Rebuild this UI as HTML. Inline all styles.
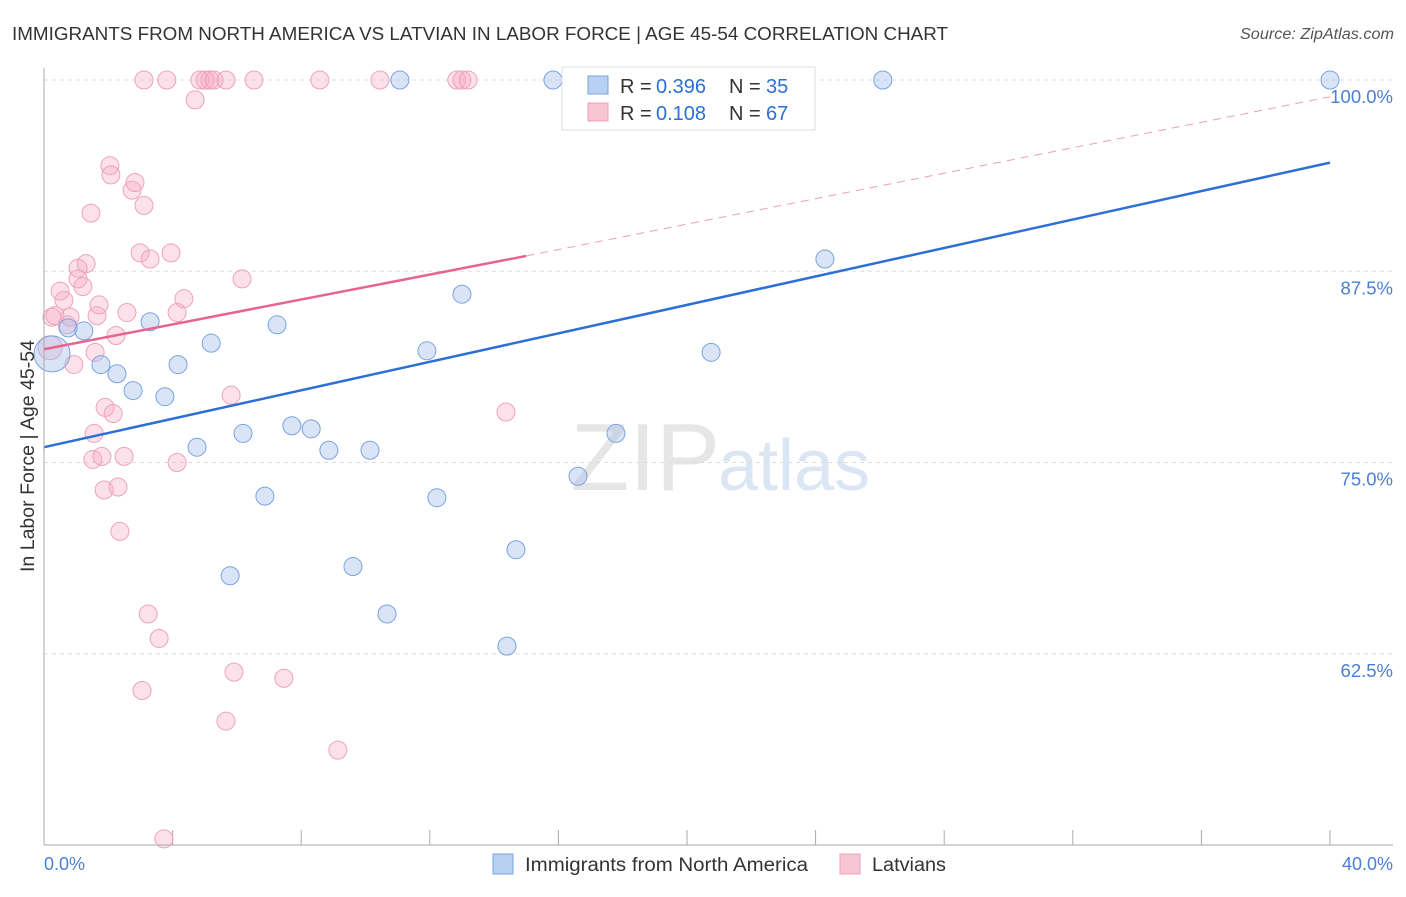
<!DOCTYPE html>
<html><head><meta charset="utf-8"><style>
body{margin:0;background:#fff;font-family:"Liberation Sans",sans-serif;}
svg text{font-family:"Liberation Sans",sans-serif;}
</style></head><body>
<svg id="c" width="1406" height="892">
<text x="12" y="40" font-size="18" fill="#333" textLength="936" lengthAdjust="spacingAndGlyphs">IMMIGRANTS FROM NORTH AMERICA VS LATVIAN IN LABOR FORCE | AGE 45-54 CORRELATION CHART</text>
<text x="1240" y="39" font-size="15.5" fill="#555" font-style="italic" textLength="154" lengthAdjust="spacingAndGlyphs">Source: ZipAtlas.com</text>
<text x="720" y="490" font-size="96" fill="#e6e6e6" font-family="Liberation Serif" text-anchor="end">ZIP</text>
<text x="718" y="490" font-size="72" fill="#dbe6f5">atlas</text>
<g id="grid"></g><g id="pts"></g><g id="lines"></g>
<line x1="44" y1="68" x2="44" y2="845" stroke="#aaa"/>
<line x1="44" y1="845" x2="1393" y2="845" stroke="#aaa"/>
<text transform="translate(34,456) rotate(-90)" font-size="19" fill="#333" text-anchor="middle" textLength="232" lengthAdjust="spacingAndGlyphs">In Labor Force | Age 45-54</text>
<text x="44" y="870" font-size="18" fill="#4a7fd4">0.0%</text>
<text x="1393" y="870" font-size="18" fill="#4a7fd4" text-anchor="end">40.0%</text>
<g>
<rect x="562" y="67" width="253" height="63" fill="#fff" stroke="#ddd"/>
<rect x="588" y="76" width="20" height="18" fill="#b8d0f2" stroke="#7aa3e0"/>
<rect x="588" y="103" width="20" height="18" fill="#f8c5d5" stroke="#eda0ba"/>
<text x="620" y="93" font-size="20" fill="#333">R =</text>
<text x="656" y="93" font-size="20" fill="#2c6fd6">0.396</text>
<text x="729" y="93" font-size="20" fill="#333">N =</text>
<text x="766" y="93" font-size="20" fill="#2c6fd6">35</text>
<text x="620" y="120" font-size="20" fill="#333">R =</text>
<text x="656" y="120" font-size="20" fill="#2c6fd6">0.108</text>
<text x="729" y="120" font-size="20" fill="#333">N =</text>
<text x="766" y="120" font-size="20" fill="#2c6fd6">67</text>
</g>
<g>
<rect x="493" y="854" width="20" height="20" fill="#b8d0f2" stroke="#7aa3e0"/>
<text x="525" y="871" font-size="19" fill="#333" textLength="283" lengthAdjust="spacingAndGlyphs">Immigrants from North America</text>
<rect x="840" y="854" width="20" height="20" fill="#f8c5d5" stroke="#eda0ba"/>
<text x="872" y="871" font-size="19" fill="#333" textLength="74" lengthAdjust="spacingAndGlyphs">Latvians</text>
</g>
</svg>
<script>
const yTicks=[100,87.5,75,62.5];
const yTickLabels=["100.0%","87.5%","75.0%","62.5%"];
const xTicks=[0,4,8,12,16,20,24,28,32,36,40];
const blueX=[0.25,0.75,1.24,1.77,2.27,2.77,3.3,3.76,4.17,4.76,5.2,5.79,6.19,6.87,7.25,7.71,8.31,8.86,9.61,10.14,10.67,11.07,11.91,12.22,13.0,14.4,14.68,15.83,16.61,17.79,20.75,24.29,26.09,40.0,17.23];
const blueY=[82.1,83.8,83.6,81.4,80.8,79.7,84.2,79.3,81.4,76.0,82.8,67.6,76.9,72.8,84.0,77.4,77.2,75.8,68.2,75.8,65.1,100,82.3,72.7,86.0,63.0,69.3,100,74.1,76.9,82.2,88.3,100,100,100];
const pinkX=[0.19,0.25,0.34,0.5,0.62,0.72,0.81,0.93,1.06,1.06,1.21,1.31,1.46,1.59,1.65,1.71,1.8,1.9,1.56,1.52,1.87,2.05,2.08,2.15,2.24,2.3,2.36,2.49,2.58,2.74,2.83,2.99,3.05,3.11,3.11,3.24,3.3,3.58,3.73,3.82,3.95,4.14,4.14,4.35,4.7,4.85,5.01,5.16,5.29,5.66,5.66,5.82,5.91,6.16,6.53,7.46,8.58,9.14,10.45,12.84,13.0,13.19,14.37];
const pinkY=[82.5,84.5,84.6,86.2,85.6,84.0,84.5,81.4,87.0,87.7,86.5,88.0,91.3,82.2,84.6,85.3,75.4,78.6,76.9,75.2,73.2,94.4,93.8,78.2,83.3,73.4,70.5,75.4,84.8,92.8,93.3,88.7,60.1,100,91.8,65.1,88.3,63.5,50.4,100,88.7,75.0,84.8,85.7,98.7,100,100,100,100,58.1,100,79.4,61.3,87.0,100,60.9,100,56.2,100,100,100,100,78.3];
const blueLine=[0,76.0,40,94.6];
const pinkLine=[0,82.4,15.0,88.5,40,98.9];
const sx=v=>44+v*32.15, sy=v=>80+(100-v)*15.3;
const NS="http://www.w3.org/2000/svg";
function mk(t,a,p){const e=document.createElementNS(NS,t);for(const k in a)e.setAttribute(k,a[k]);p.appendChild(e);return e;}
const grid=document.getElementById('grid'),pts=document.getElementById('pts'),lines=document.getElementById('lines');
yTicks.forEach((v,i)=>{
 const l=mk('line',{x1:44,x2:1393,y1:sy(v),y2:sy(v),stroke:'#ddd','stroke-dasharray':'4,4'},grid);
 
 
 const t=mk('text',{x:1393,y:sy(v)+23,'font-size':18.5,fill:'#4a7fd4','text-anchor':'end'},grid);
 t.textContent=yTickLabels[i];
 
 
});
xTicks.forEach(v=>{
 const l=mk('line',{x1:sx(v),x2:sx(v),y1:830,y2:845,stroke:'#aaa'},grid);
 
 
});
pinkX.forEach((x,i)=>{
 const c=mk('circle',{cx:sx(x),cy:sy(pinkY[i]),r:i==0?12:9,fill:'rgba(245,170,195,0.35)',stroke:'#eda3bb','stroke-width':1},pts);
 
 
});
blueX.forEach((x,i)=>{
 const c=mk('circle',{cx:sx(x),cy:sy(blueY[i]),r:i==0?18:9,fill:'rgba(160,190,235,0.4)',stroke:'#7aa3e0','stroke-width':1},pts);
 
 
});
let l=mk('line',{x1:sx(blueLine[0]),y1:sy(blueLine[1]),x2:sx(blueLine[2]),y2:sy(blueLine[3]),stroke:'#2c6fd6','stroke-width':2.5},lines);


l=mk('line',{x1:sx(pinkLine[0]),y1:sy(pinkLine[1]),x2:sx(pinkLine[2]),y2:sy(pinkLine[3]),stroke:'#e8648f','stroke-width':2.5},lines);


l=mk('line',{x1:sx(pinkLine[2]),y1:sy(pinkLine[3]),x2:sx(pinkLine[4]),y2:sy(pinkLine[5]),stroke:'#eba0b8','stroke-width':1,'stroke-dasharray':'8,6'},lines);


</script>
</body></html>
